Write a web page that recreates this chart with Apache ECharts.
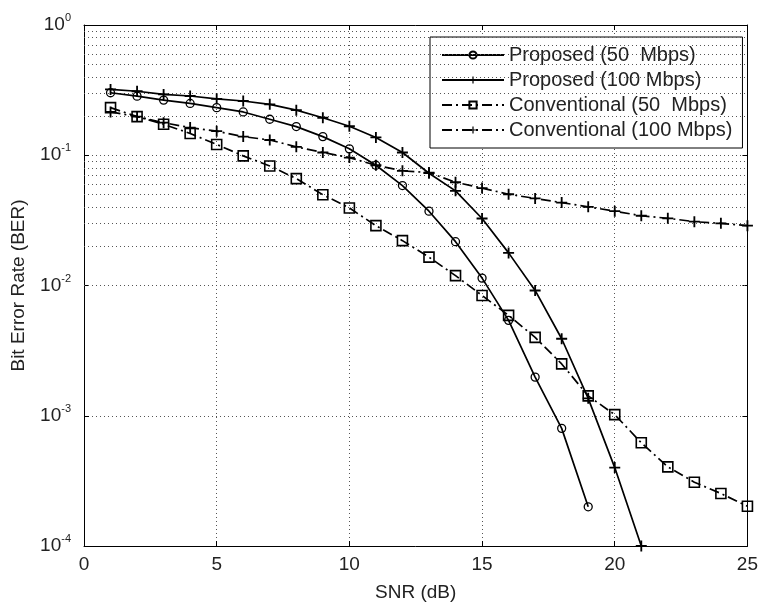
<!DOCTYPE html>
<html><head><meta charset="utf-8">
<script src="https://cdn.jsdelivr.net/npm/echarts@6/dist/echarts.min.js"></script>
<style>html,body{margin:0;padding:0;background:#fff}#c{width:761px;height:607px}</style>
</head><body><div id="c"></div>
<script>
const snr = [1,2,3,4,5,6,7,8,9,10,11,12,13,14,15,16,17,18,19,20,21,22,23,24,25];
const prop50 = [0.302,0.284,0.265,0.250,0.232,0.215,0.189,0.166,0.139,0.112,0.0838,0.0585,0.0372,0.0217,0.0114,0.0054,0.00198,0.0008,0.0002];
const prop100 = [0.320,0.310,0.293,0.285,0.271,0.261,0.246,0.222,0.194,0.167,0.137,0.105,0.0728,0.0533,0.0327,0.0178,0.00916,0.0039,0.00136,0.0004,0.0001];
const conv50 = [0.232,0.198,0.173,0.147,0.121,0.0989,0.0828,0.0662,0.0498,0.0394,0.0288,0.0221,0.0165,0.0119,0.00838,0.0059,0.0040,0.0025,0.00142,0.00102,0.00062,0.000405,0.000309,0.000253,0.000202];
const conv100 = [0.215,0.198,0.178,0.163,0.153,0.139,0.131,0.116,0.105,0.096,0.0838,0.0759,0.0736,0.0620,0.0560,0.0502,0.0466,0.0433,0.0402,0.0372,0.0343,0.0328,0.0309,0.0300,0.0288];
const names = ['Proposed (50  Mbps)','Proposed (100 Mbps)','Conventional (50  Mbps)','Conventional (100 Mbps)'];
const xTicks = [0,5,10,15,20,25];

const pairs = arr => arr.map((v,i)=>[snr[i], v]);
const plusPath = 'path://M5,0H7V5H12V7H7V12H5V7H0V5H5Z';
const dashDot = [10,4,2,4];
const minorLines = [];
for (let e=-4; e<0; e++) for (let m=2; m<10; m++) minorLines.push({yAxis: m*Math.pow(10,e)});
const gridStyle = {color:'#555', type:[1,3], width:1};
const font = 'Liberation Sans, Arial, sans-serif';

const chart = echarts.init(document.getElementById('c'), null, {renderer:'canvas'});
chart.setOption({
  animation:false,
  backgroundColor:'#fff',
  textStyle:{fontFamily:font},
  grid:{left:84, right:11, top:25, bottom:57},
  legend:{
    orient:'vertical', left:430, top:37,
    backgroundColor:'#fff', borderColor:'#000', borderWidth:1,
    padding:[8,10,8,11], itemWidth:62, itemHeight:9, itemGap:5,
    textStyle:{fontSize:20, color:'#222', fontFamily:font},
    data:names
  },
  xAxis:[{
    type:'value', min:0, max:25, interval:5,
    name:'SNR (dB)', nameLocation:'middle', nameGap:37,
    nameTextStyle:{fontSize:19, color:'#222'},
    axisLine:{show:true, onZero:false, lineStyle:{color:'#000'}},
    axisTick:{show:true, inside:true, length:5, lineStyle:{color:'#000'}},
    axisLabel:{fontSize:19, color:'#222', margin:9},
    splitLine:{show:true, lineStyle:gridStyle}
  },{
    type:'value', min:0, max:25, interval:5, position:'top',
    axisLine:{show:true, onZero:false, lineStyle:{color:'#000'}},
    axisTick:{show:true, inside:true, length:5, lineStyle:{color:'#000'}},
    axisLabel:{show:false}, splitLine:{show:false}
  }],
  yAxis:[{
    type:'log', logBase:10, min:1e-4, max:1,
    name:'Bit Error Rate (BER)', nameLocation:'middle', nameGap:56,
    nameTextStyle:{fontSize:19, color:'#222'},
    axisLine:{show:true, onZero:false, lineStyle:{color:'#000'}},
    axisTick:{show:true, inside:true, length:5, lineStyle:{color:'#000'}},
    axisLabel:{
      margin:13, color:'#222',
      formatter: v => '{b|10}{s|' + Math.round(Math.log10(v)) + '}',
      rich:{b:{fontSize:19, color:'#222', fontFamily:font}, s:{fontSize:11, color:'#222', fontFamily:font, padding:[0,0,14,0]}}
    },
    splitLine:{show:true, lineStyle:gridStyle}
  },{
    type:'log', logBase:10, min:1e-4, max:1, position:'right',
    axisLine:{show:true, onZero:false, lineStyle:{color:'#000'}},
    axisTick:{show:true, inside:true, length:5, lineStyle:{color:'#000'}},
    axisLabel:{show:false}, splitLine:{show:false}
  }],
  series:[
    {name:names[0], type:'line', data:pairs(prop50), symbol:'circle', symbolSize:8,
     itemStyle:{color:'transparent', borderColor:'#000', borderWidth:1.3},
     lineStyle:{color:'#000', width:1.7}, z:5,
     markLine:{silent:true, symbol:'none', label:{show:false}, animation:false,
       lineStyle:gridStyle, emphasis:{disabled:true}, data:minorLines}},
    {name:names[1], type:'line', data:pairs(prop100), symbol:plusPath, symbolSize:11,
     itemStyle:{color:'#000'}, lineStyle:{color:'#000', width:1.7}, z:5},
    {name:names[2], type:'line', data:pairs(conv50), symbol:'rect', symbolSize:10,
     itemStyle:{color:'transparent', borderColor:'#000', borderWidth:1.6},
     lineStyle:{color:'#000', width:1.7, type:dashDot}, z:5},
    {name:names[3], type:'line', data:pairs(conv100), symbol:plusPath, symbolSize:11,
     itemStyle:{color:'#000'}, lineStyle:{color:'#000', width:1.7, type:dashDot}, z:5}
  ]
});
</script></body></html>
